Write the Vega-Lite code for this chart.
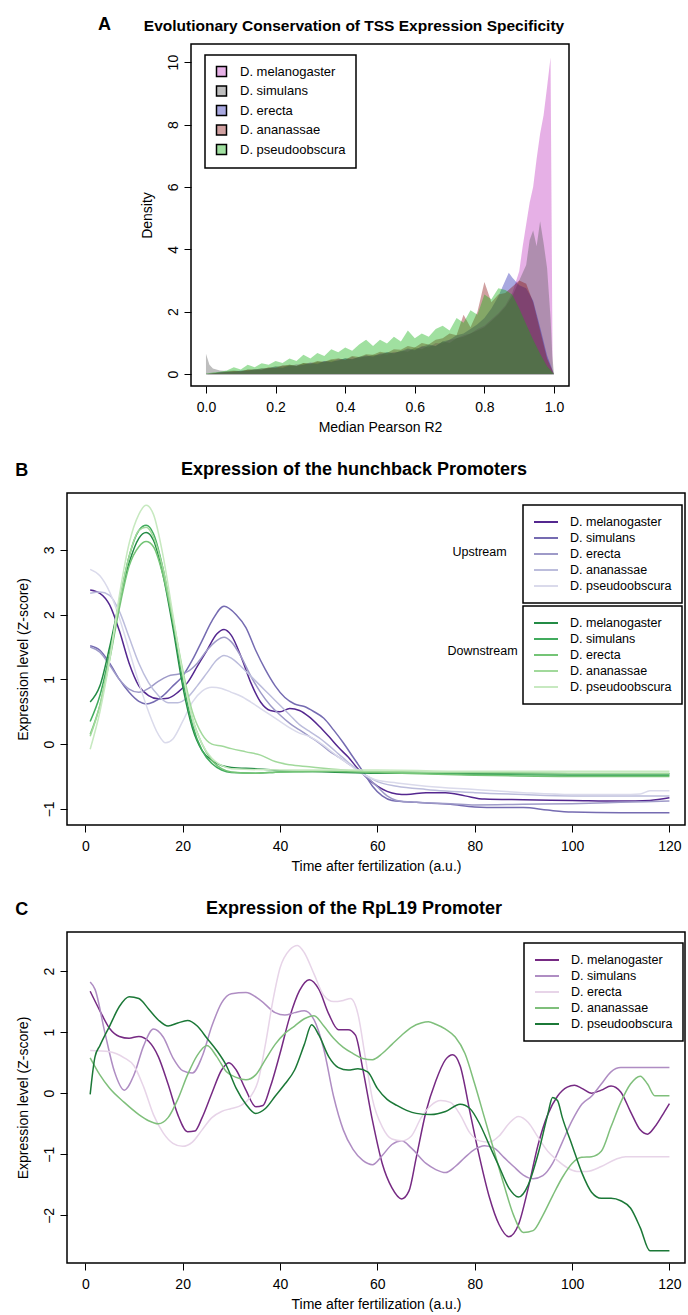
{
"$schema": "https://vega.github.io/schema/vega-lite/v6.json",
"padding": {"left": 15, "top": 16, "right": 0, "bottom": 0},
"background": "white",
"spacing": 25,
"resolve": {"scale": {"color": "independent"}},
"config": {
  "font": "Liberation Sans",
  "view": {"stroke": "black", "strokeWidth": 1.5},
  "axis": {"grid": false, "domain": false, "ticks": true, "tickColor": "black", "tickWidth": 1, "tickSize": 7, "labelColor": "black", "titleColor": "black", "labelFontSize": 14, "titleFontSize": 14, "titleFontWeight": "normal", "labelFlush": false, "labelOverlap": false},
  "axisY": {"labelAngle": -90, "labelAlign": "center", "labelBaseline": "bottom", "labelPadding": 4, "titlePadding": 12},
  "axisX": {"labelPadding": 7, "titlePadding": 6},
  "title": {"font": "Liberation Sans", "fontWeight": "bold", "color": "black", "fontSize": 18},
  "legend": {"labelFont": "Liberation Sans", "labelColor": "black", "strokeColor": "black", "fillColor": "white"}
},
"datasets": {
"tss": [
{"species":"D. melanogaster","x":0,"density":0.01},{"species":"D. melanogaster","x":0.02,"density":0.03},{"species":"D. melanogaster","x":0.04,"density":0.05},{"species":"D. melanogaster","x":0.06,"density":0.06},{"species":"D. melanogaster","x":0.08,"density":0.1},{"species":"D. melanogaster","x":0.1,"density":0.08},{"species":"D. melanogaster","x":0.12,"density":0.14},{"species":"D. melanogaster","x":0.14,"density":0.12},{"species":"D. melanogaster","x":0.16,"density":0.18},{"species":"D. melanogaster","x":0.18,"density":0.2},{"species":"D. melanogaster","x":0.2,"density":0.22},{"species":"D. melanogaster","x":0.22,"density":0.28},{"species":"D. melanogaster","x":0.24,"density":0.25},{"species":"D. melanogaster","x":0.26,"density":0.32},{"species":"D. melanogaster","x":0.28,"density":0.3},{"species":"D. melanogaster","x":0.3,"density":0.38},{"species":"D. melanogaster","x":0.32,"density":0.35},{"species":"D. melanogaster","x":0.34,"density":0.42},{"species":"D. melanogaster","x":0.36,"density":0.4},{"species":"D. melanogaster","x":0.38,"density":0.5},{"species":"D. melanogaster","x":0.4,"density":0.45},{"species":"D. melanogaster","x":0.42,"density":0.55},{"species":"D. melanogaster","x":0.44,"density":0.5},{"species":"D. melanogaster","x":0.46,"density":0.6},{"species":"D. melanogaster","x":0.48,"density":0.58},{"species":"D. melanogaster","x":0.5,"density":0.66},{"species":"D. melanogaster","x":0.52,"density":0.62},{"species":"D. melanogaster","x":0.54,"density":0.72},{"species":"D. melanogaster","x":0.56,"density":0.7},{"species":"D. melanogaster","x":0.58,"density":0.8},{"species":"D. melanogaster","x":0.6,"density":0.76},{"species":"D. melanogaster","x":0.62,"density":0.9},{"species":"D. melanogaster","x":0.64,"density":0.85},{"species":"D. melanogaster","x":0.66,"density":1.0},{"species":"D. melanogaster","x":0.68,"density":0.98},{"species":"D. melanogaster","x":0.7,"density":1.1},{"species":"D. melanogaster","x":0.72,"density":1.15},{"species":"D. melanogaster","x":0.74,"density":1.25},{"species":"D. melanogaster","x":0.76,"density":1.3},{"species":"D. melanogaster","x":0.78,"density":1.45},{"species":"D. melanogaster","x":0.8,"density":1.55},{"species":"D. melanogaster","x":0.82,"density":1.75},{"species":"D. melanogaster","x":0.84,"density":1.95},{"species":"D. melanogaster","x":0.86,"density":2.2},{"species":"D. melanogaster","x":0.88,"density":2.6},{"species":"D. melanogaster","x":0.9,"density":3.3},{"species":"D. melanogaster","x":0.91,"density":4.1},{"species":"D. melanogaster","x":0.92,"density":4.8},{"species":"D. melanogaster","x":0.93,"density":5.5},{"species":"D. melanogaster","x":0.94,"density":6.0},{"species":"D. melanogaster","x":0.95,"density":6.9},{"species":"D. melanogaster","x":0.96,"density":7.7},{"species":"D. melanogaster","x":0.97,"density":8.3},{"species":"D. melanogaster","x":0.98,"density":9.2},{"species":"D. melanogaster","x":0.99,"density":10.15},{"species":"D. melanogaster","x":0.996,"density":0},
{"species":"D. simulans","x":0,"density":0.65},{"species":"D. simulans","x":0.01,"density":0.3},{"species":"D. simulans","x":0.02,"density":0.18},{"species":"D. simulans","x":0.04,"density":0.12},{"species":"D. simulans","x":0.06,"density":0.1},{"species":"D. simulans","x":0.08,"density":0.12},{"species":"D. simulans","x":0.1,"density":0.1},{"species":"D. simulans","x":0.12,"density":0.15},{"species":"D. simulans","x":0.14,"density":0.14},{"species":"D. simulans","x":0.16,"density":0.2},{"species":"D. simulans","x":0.18,"density":0.18},{"species":"D. simulans","x":0.2,"density":0.26},{"species":"D. simulans","x":0.22,"density":0.24},{"species":"D. simulans","x":0.24,"density":0.3},{"species":"D. simulans","x":0.26,"density":0.28},{"species":"D. simulans","x":0.28,"density":0.36},{"species":"D. simulans","x":0.3,"density":0.32},{"species":"D. simulans","x":0.32,"density":0.4},{"species":"D. simulans","x":0.34,"density":0.38},{"species":"D. simulans","x":0.36,"density":0.45},{"species":"D. simulans","x":0.38,"density":0.42},{"species":"D. simulans","x":0.4,"density":0.52},{"species":"D. simulans","x":0.42,"density":0.48},{"species":"D. simulans","x":0.44,"density":0.56},{"species":"D. simulans","x":0.46,"density":0.55},{"species":"D. simulans","x":0.48,"density":0.62},{"species":"D. simulans","x":0.5,"density":0.6},{"species":"D. simulans","x":0.52,"density":0.7},{"species":"D. simulans","x":0.54,"density":0.66},{"species":"D. simulans","x":0.56,"density":0.75},{"species":"D. simulans","x":0.58,"density":0.72},{"species":"D. simulans","x":0.6,"density":0.85},{"species":"D. simulans","x":0.62,"density":0.8},{"species":"D. simulans","x":0.64,"density":0.92},{"species":"D. simulans","x":0.66,"density":0.9},{"species":"D. simulans","x":0.68,"density":1.05},{"species":"D. simulans","x":0.7,"density":1.0},{"species":"D. simulans","x":0.72,"density":1.15},{"species":"D. simulans","x":0.74,"density":1.2},{"species":"D. simulans","x":0.76,"density":1.3},{"species":"D. simulans","x":0.78,"density":1.4},{"species":"D. simulans","x":0.8,"density":1.5},{"species":"D. simulans","x":0.82,"density":1.7},{"species":"D. simulans","x":0.84,"density":1.9},{"species":"D. simulans","x":0.86,"density":2.15},{"species":"D. simulans","x":0.88,"density":2.5},{"species":"D. simulans","x":0.9,"density":3.0},{"species":"D. simulans","x":0.92,"density":3.5},{"species":"D. simulans","x":0.93,"density":4.3},{"species":"D. simulans","x":0.94,"density":4.6},{"species":"D. simulans","x":0.95,"density":4.1},{"species":"D. simulans","x":0.96,"density":4.9},{"species":"D. simulans","x":0.97,"density":4.2},{"species":"D. simulans","x":0.98,"density":3.4},{"species":"D. simulans","x":0.99,"density":1.8},{"species":"D. simulans","x":0.995,"density":0.6},{"species":"D. simulans","x":1.0,"density":0},
{"species":"D. erecta","x":0,"density":0},{"species":"D. erecta","x":0.02,"density":0.02},{"species":"D. erecta","x":0.04,"density":0.06},{"species":"D. erecta","x":0.06,"density":0.08},{"species":"D. erecta","x":0.08,"density":0.07},{"species":"D. erecta","x":0.1,"density":0.12},{"species":"D. erecta","x":0.12,"density":0.1},{"species":"D. erecta","x":0.14,"density":0.16},{"species":"D. erecta","x":0.16,"density":0.14},{"species":"D. erecta","x":0.18,"density":0.2},{"species":"D. erecta","x":0.2,"density":0.22},{"species":"D. erecta","x":0.22,"density":0.2},{"species":"D. erecta","x":0.24,"density":0.28},{"species":"D. erecta","x":0.26,"density":0.26},{"species":"D. erecta","x":0.28,"density":0.3},{"species":"D. erecta","x":0.3,"density":0.36},{"species":"D. erecta","x":0.32,"density":0.32},{"species":"D. erecta","x":0.34,"density":0.42},{"species":"D. erecta","x":0.36,"density":0.38},{"species":"D. erecta","x":0.38,"density":0.45},{"species":"D. erecta","x":0.4,"density":0.5},{"species":"D. erecta","x":0.42,"density":0.48},{"species":"D. erecta","x":0.44,"density":0.55},{"species":"D. erecta","x":0.46,"density":0.6},{"species":"D. erecta","x":0.48,"density":0.56},{"species":"D. erecta","x":0.5,"density":0.65},{"species":"D. erecta","x":0.52,"density":0.7},{"species":"D. erecta","x":0.54,"density":0.68},{"species":"D. erecta","x":0.56,"density":0.74},{"species":"D. erecta","x":0.58,"density":0.82},{"species":"D. erecta","x":0.6,"density":0.78},{"species":"D. erecta","x":0.62,"density":0.88},{"species":"D. erecta","x":0.64,"density":0.95},{"species":"D. erecta","x":0.66,"density":0.9},{"species":"D. erecta","x":0.68,"density":1.05},{"species":"D. erecta","x":0.7,"density":1.1},{"species":"D. erecta","x":0.72,"density":1.25},{"species":"D. erecta","x":0.74,"density":1.3},{"species":"D. erecta","x":0.76,"density":1.45},{"species":"D. erecta","x":0.78,"density":1.6},{"species":"D. erecta","x":0.8,"density":1.8},{"species":"D. erecta","x":0.82,"density":2.1},{"species":"D. erecta","x":0.84,"density":2.5},{"species":"D. erecta","x":0.86,"density":3.0},{"species":"D. erecta","x":0.87,"density":3.25},{"species":"D. erecta","x":0.88,"density":3.1},{"species":"D. erecta","x":0.9,"density":2.85},{"species":"D. erecta","x":0.92,"density":2.75},{"species":"D. erecta","x":0.94,"density":2.35},{"species":"D. erecta","x":0.96,"density":1.5},{"species":"D. erecta","x":0.98,"density":0.6},{"species":"D. erecta","x":1.0,"density":0},
{"species":"D. ananassae","x":0,"density":0},{"species":"D. ananassae","x":0.02,"density":0.03},{"species":"D. ananassae","x":0.04,"density":0.05},{"species":"D. ananassae","x":0.06,"density":0.08},{"species":"D. ananassae","x":0.08,"density":0.1},{"species":"D. ananassae","x":0.1,"density":0.09},{"species":"D. ananassae","x":0.12,"density":0.14},{"species":"D. ananassae","x":0.14,"density":0.16},{"species":"D. ananassae","x":0.16,"density":0.15},{"species":"D. ananassae","x":0.18,"density":0.22},{"species":"D. ananassae","x":0.2,"density":0.2},{"species":"D. ananassae","x":0.22,"density":0.28},{"species":"D. ananassae","x":0.24,"density":0.3},{"species":"D. ananassae","x":0.26,"density":0.26},{"species":"D. ananassae","x":0.28,"density":0.36},{"species":"D. ananassae","x":0.3,"density":0.34},{"species":"D. ananassae","x":0.32,"density":0.42},{"species":"D. ananassae","x":0.34,"density":0.4},{"species":"D. ananassae","x":0.36,"density":0.48},{"species":"D. ananassae","x":0.38,"density":0.5},{"species":"D. ananassae","x":0.4,"density":0.46},{"species":"D. ananassae","x":0.42,"density":0.58},{"species":"D. ananassae","x":0.44,"density":0.55},{"species":"D. ananassae","x":0.46,"density":0.64},{"species":"D. ananassae","x":0.48,"density":0.62},{"species":"D. ananassae","x":0.5,"density":0.72},{"species":"D. ananassae","x":0.52,"density":0.68},{"species":"D. ananassae","x":0.54,"density":0.8},{"species":"D. ananassae","x":0.56,"density":0.78},{"species":"D. ananassae","x":0.58,"density":0.9},{"species":"D. ananassae","x":0.6,"density":0.85},{"species":"D. ananassae","x":0.62,"density":1.0},{"species":"D. ananassae","x":0.64,"density":0.95},{"species":"D. ananassae","x":0.66,"density":1.1},{"species":"D. ananassae","x":0.68,"density":1.15},{"species":"D. ananassae","x":0.7,"density":1.3},{"species":"D. ananassae","x":0.72,"density":1.25},{"species":"D. ananassae","x":0.74,"density":1.9},{"species":"D. ananassae","x":0.76,"density":1.5},{"species":"D. ananassae","x":0.78,"density":2.0},{"species":"D. ananassae","x":0.8,"density":2.95},{"species":"D. ananassae","x":0.82,"density":2.3},{"species":"D. ananassae","x":0.84,"density":2.55},{"species":"D. ananassae","x":0.86,"density":2.6},{"species":"D. ananassae","x":0.88,"density":2.8},{"species":"D. ananassae","x":0.9,"density":3.0},{"species":"D. ananassae","x":0.92,"density":2.9},{"species":"D. ananassae","x":0.94,"density":2.3},{"species":"D. ananassae","x":0.96,"density":1.4},{"species":"D. ananassae","x":0.98,"density":0.5},{"species":"D. ananassae","x":1.0,"density":0},
{"species":"D. pseudoobscura","x":0,"density":0.02},{"species":"D. pseudoobscura","x":0.02,"density":0.05},{"species":"D. pseudoobscura","x":0.04,"density":0.08},{"species":"D. pseudoobscura","x":0.06,"density":0.12},{"species":"D. pseudoobscura","x":0.08,"density":0.22},{"species":"D. pseudoobscura","x":0.1,"density":0.15},{"species":"D. pseudoobscura","x":0.12,"density":0.3},{"species":"D. pseudoobscura","x":0.14,"density":0.22},{"species":"D. pseudoobscura","x":0.16,"density":0.35},{"species":"D. pseudoobscura","x":0.18,"density":0.3},{"species":"D. pseudoobscura","x":0.2,"density":0.42},{"species":"D. pseudoobscura","x":0.22,"density":0.36},{"species":"D. pseudoobscura","x":0.24,"density":0.5},{"species":"D. pseudoobscura","x":0.26,"density":0.42},{"species":"D. pseudoobscura","x":0.28,"density":0.62},{"species":"D. pseudoobscura","x":0.3,"density":0.5},{"species":"D. pseudoobscura","x":0.32,"density":0.68},{"species":"D. pseudoobscura","x":0.34,"density":0.58},{"species":"D. pseudoobscura","x":0.36,"density":0.8},{"species":"D. pseudoobscura","x":0.38,"density":0.7},{"species":"D. pseudoobscura","x":0.4,"density":0.85},{"species":"D. pseudoobscura","x":0.42,"density":0.75},{"species":"D. pseudoobscura","x":0.44,"density":0.95},{"species":"D. pseudoobscura","x":0.46,"density":1.1},{"species":"D. pseudoobscura","x":0.48,"density":0.9},{"species":"D. pseudoobscura","x":0.5,"density":1.1},{"species":"D. pseudoobscura","x":0.52,"density":0.98},{"species":"D. pseudoobscura","x":0.54,"density":1.2},{"species":"D. pseudoobscura","x":0.56,"density":1.05},{"species":"D. pseudoobscura","x":0.58,"density":1.4},{"species":"D. pseudoobscura","x":0.6,"density":1.15},{"species":"D. pseudoobscura","x":0.62,"density":1.3},{"species":"D. pseudoobscura","x":0.64,"density":1.2},{"species":"D. pseudoobscura","x":0.66,"density":1.45},{"species":"D. pseudoobscura","x":0.68,"density":1.55},{"species":"D. pseudoobscura","x":0.7,"density":1.4},{"species":"D. pseudoobscura","x":0.72,"density":1.8},{"species":"D. pseudoobscura","x":0.74,"density":1.65},{"species":"D. pseudoobscura","x":0.76,"density":2.05},{"species":"D. pseudoobscura","x":0.78,"density":1.9},{"species":"D. pseudoobscura","x":0.8,"density":2.55},{"species":"D. pseudoobscura","x":0.82,"density":2.4},{"species":"D. pseudoobscura","x":0.84,"density":2.75},{"species":"D. pseudoobscura","x":0.86,"density":2.7},{"species":"D. pseudoobscura","x":0.88,"density":2.55},{"species":"D. pseudoobscura","x":0.9,"density":2.1},{"species":"D. pseudoobscura","x":0.92,"density":1.6},{"species":"D. pseudoobscura","x":0.94,"density":1.1},{"species":"D. pseudoobscura","x":0.96,"density":0.65},{"species":"D. pseudoobscura","x":0.98,"density":0.25},{"species":"D. pseudoobscura","x":1.0,"density":0}
],
"hb": [
{"promoter":"Upstream","species":"D. melanogaster","time":1,"z":2.38},{"promoter":"Upstream","species":"D. melanogaster","time":3,"z":2.33},{"promoter":"Upstream","species":"D. melanogaster","time":5,"z":2.15},{"promoter":"Upstream","species":"D. melanogaster","time":7,"z":1.75},{"promoter":"Upstream","species":"D. melanogaster","time":9,"z":1.25},{"promoter":"Upstream","species":"D. melanogaster","time":11,"z":0.9},{"promoter":"Upstream","species":"D. melanogaster","time":13,"z":0.75},{"promoter":"Upstream","species":"D. melanogaster","time":15,"z":0.7},{"promoter":"Upstream","species":"D. melanogaster","time":17,"z":0.71},{"promoter":"Upstream","species":"D. melanogaster","time":19,"z":0.8},{"promoter":"Upstream","species":"D. melanogaster","time":21,"z":0.95},{"promoter":"Upstream","species":"D. melanogaster","time":23,"z":1.2},{"promoter":"Upstream","species":"D. melanogaster","time":25,"z":1.45},{"promoter":"Upstream","species":"D. melanogaster","time":27,"z":1.7},{"promoter":"Upstream","species":"D. melanogaster","time":28.5,"z":1.77},{"promoter":"Upstream","species":"D. melanogaster","time":30,"z":1.68},{"promoter":"Upstream","species":"D. melanogaster","time":32,"z":1.35},{"promoter":"Upstream","species":"D. melanogaster","time":34,"z":0.95},{"promoter":"Upstream","species":"D. melanogaster","time":36,"z":0.65},{"promoter":"Upstream","species":"D. melanogaster","time":38,"z":0.52},{"promoter":"Upstream","species":"D. melanogaster","time":40,"z":0.5},{"promoter":"Upstream","species":"D. melanogaster","time":42,"z":0.55},{"promoter":"Upstream","species":"D. melanogaster","time":44,"z":0.52},{"promoter":"Upstream","species":"D. melanogaster","time":46,"z":0.42},{"promoter":"Upstream","species":"D. melanogaster","time":48,"z":0.28},{"promoter":"Upstream","species":"D. melanogaster","time":50,"z":0.12},{"promoter":"Upstream","species":"D. melanogaster","time":52,"z":-0.05},{"promoter":"Upstream","species":"D. melanogaster","time":54,"z":-0.2},{"promoter":"Upstream","species":"D. melanogaster","time":56,"z":-0.38},{"promoter":"Upstream","species":"D. melanogaster","time":58,"z":-0.53},{"promoter":"Upstream","species":"D. melanogaster","time":60,"z":-0.65},{"promoter":"Upstream","species":"D. melanogaster","time":62,"z":-0.73},{"promoter":"Upstream","species":"D. melanogaster","time":64,"z":-0.77},{"promoter":"Upstream","species":"D. melanogaster","time":66,"z":-0.78},{"promoter":"Upstream","species":"D. melanogaster","time":70,"z":-0.75},{"promoter":"Upstream","species":"D. melanogaster","time":74,"z":-0.75},{"promoter":"Upstream","species":"D. melanogaster","time":78,"z":-0.8},{"promoter":"Upstream","species":"D. melanogaster","time":82,"z":-0.85},{"promoter":"Upstream","species":"D. melanogaster","time":90,"z":-0.86},{"promoter":"Upstream","species":"D. melanogaster","time":100,"z":-0.87},{"promoter":"Upstream","species":"D. melanogaster","time":110,"z":-0.88},{"promoter":"Upstream","species":"D. melanogaster","time":116,"z":-0.87},{"promoter":"Upstream","species":"D. melanogaster","time":120,"z":-0.83},
{"promoter":"Upstream","species":"D. simulans","time":1,"z":1.52},{"promoter":"Upstream","species":"D. simulans","time":3,"z":1.45},{"promoter":"Upstream","species":"D. simulans","time":5,"z":1.25},{"promoter":"Upstream","species":"D. simulans","time":7,"z":1.0},{"promoter":"Upstream","species":"D. simulans","time":9,"z":0.8},{"promoter":"Upstream","species":"D. simulans","time":11,"z":0.66},{"promoter":"Upstream","species":"D. simulans","time":12.5,"z":0.62},{"promoter":"Upstream","species":"D. simulans","time":14,"z":0.65},{"promoter":"Upstream","species":"D. simulans","time":16,"z":0.75},{"promoter":"Upstream","species":"D. simulans","time":18,"z":0.9},{"promoter":"Upstream","species":"D. simulans","time":20,"z":1.05},{"promoter":"Upstream","species":"D. simulans","time":22,"z":1.3},{"promoter":"Upstream","species":"D. simulans","time":24,"z":1.6},{"promoter":"Upstream","species":"D. simulans","time":26,"z":1.9},{"promoter":"Upstream","species":"D. simulans","time":28.5,"z":2.13},{"promoter":"Upstream","species":"D. simulans","time":31,"z":2.0},{"promoter":"Upstream","species":"D. simulans","time":33,"z":1.8},{"promoter":"Upstream","species":"D. simulans","time":35,"z":1.45},{"promoter":"Upstream","species":"D. simulans","time":37,"z":1.15},{"promoter":"Upstream","species":"D. simulans","time":39,"z":0.9},{"promoter":"Upstream","species":"D. simulans","time":41,"z":0.72},{"promoter":"Upstream","species":"D. simulans","time":43,"z":0.62},{"promoter":"Upstream","species":"D. simulans","time":45,"z":0.58},{"promoter":"Upstream","species":"D. simulans","time":47,"z":0.5},{"promoter":"Upstream","species":"D. simulans","time":49,"z":0.4},{"promoter":"Upstream","species":"D. simulans","time":51,"z":0.22},{"promoter":"Upstream","species":"D. simulans","time":53,"z":0.02},{"promoter":"Upstream","species":"D. simulans","time":55,"z":-0.2},{"promoter":"Upstream","species":"D. simulans","time":57,"z":-0.42},{"promoter":"Upstream","species":"D. simulans","time":59,"z":-0.65},{"promoter":"Upstream","species":"D. simulans","time":61,"z":-0.8},{"promoter":"Upstream","species":"D. simulans","time":63,"z":-0.87},{"promoter":"Upstream","species":"D. simulans","time":68,"z":-0.9},{"promoter":"Upstream","species":"D. simulans","time":75,"z":-0.93},{"promoter":"Upstream","species":"D. simulans","time":80,"z":-0.97},{"promoter":"Upstream","species":"D. simulans","time":85,"z":-0.98},{"promoter":"Upstream","species":"D. simulans","time":90,"z":-0.98},{"promoter":"Upstream","species":"D. simulans","time":95,"z":-1.02},{"promoter":"Upstream","species":"D. simulans","time":100,"z":-1.05},{"promoter":"Upstream","species":"D. simulans","time":110,"z":-1.06},{"promoter":"Upstream","species":"D. simulans","time":120,"z":-1.06},
{"promoter":"Upstream","species":"D. erecta","time":1,"z":1.5},{"promoter":"Upstream","species":"D. erecta","time":3,"z":1.42},{"promoter":"Upstream","species":"D. erecta","time":5,"z":1.22},{"promoter":"Upstream","species":"D. erecta","time":7,"z":1.0},{"promoter":"Upstream","species":"D. erecta","time":9,"z":0.85},{"promoter":"Upstream","species":"D. erecta","time":11,"z":0.8},{"promoter":"Upstream","species":"D. erecta","time":13,"z":0.86},{"promoter":"Upstream","species":"D. erecta","time":15,"z":0.97},{"promoter":"Upstream","species":"D. erecta","time":17,"z":1.05},{"promoter":"Upstream","species":"D. erecta","time":19,"z":1.08},{"promoter":"Upstream","species":"D. erecta","time":21,"z":1.12},{"promoter":"Upstream","species":"D. erecta","time":23,"z":1.25},{"promoter":"Upstream","species":"D. erecta","time":25,"z":1.45},{"promoter":"Upstream","species":"D. erecta","time":27,"z":1.6},{"promoter":"Upstream","species":"D. erecta","time":28.5,"z":1.65},{"promoter":"Upstream","species":"D. erecta","time":30,"z":1.58},{"promoter":"Upstream","species":"D. erecta","time":32,"z":1.35},{"promoter":"Upstream","species":"D. erecta","time":34,"z":1.05},{"promoter":"Upstream","species":"D. erecta","time":36,"z":0.8},{"promoter":"Upstream","species":"D. erecta","time":38,"z":0.6},{"promoter":"Upstream","species":"D. erecta","time":40,"z":0.45},{"promoter":"Upstream","species":"D. erecta","time":42,"z":0.32},{"promoter":"Upstream","species":"D. erecta","time":44,"z":0.22},{"promoter":"Upstream","species":"D. erecta","time":46,"z":0.12},{"promoter":"Upstream","species":"D. erecta","time":48,"z":0.02},{"promoter":"Upstream","species":"D. erecta","time":50,"z":-0.1},{"promoter":"Upstream","species":"D. erecta","time":52,"z":-0.2},{"promoter":"Upstream","species":"D. erecta","time":54,"z":-0.3},{"promoter":"Upstream","species":"D. erecta","time":56,"z":-0.4},{"promoter":"Upstream","species":"D. erecta","time":58,"z":-0.52},{"promoter":"Upstream","species":"D. erecta","time":60,"z":-0.66},{"promoter":"Upstream","species":"D. erecta","time":62,"z":-0.8},{"promoter":"Upstream","species":"D. erecta","time":64,"z":-0.87},{"promoter":"Upstream","species":"D. erecta","time":68,"z":-0.9},{"promoter":"Upstream","species":"D. erecta","time":75,"z":-0.92},{"promoter":"Upstream","species":"D. erecta","time":80,"z":-0.94},{"promoter":"Upstream","species":"D. erecta","time":90,"z":-0.93},{"promoter":"Upstream","species":"D. erecta","time":100,"z":-0.92},{"promoter":"Upstream","species":"D. erecta","time":110,"z":-0.9},{"promoter":"Upstream","species":"D. erecta","time":120,"z":-0.88},
{"promoter":"Upstream","species":"D. ananassae","time":1,"z":2.33},{"promoter":"Upstream","species":"D. ananassae","time":3,"z":2.35},{"promoter":"Upstream","species":"D. ananassae","time":5,"z":2.3},{"promoter":"Upstream","species":"D. ananassae","time":7,"z":2.05},{"promoter":"Upstream","species":"D. ananassae","time":9,"z":1.65},{"promoter":"Upstream","species":"D. ananassae","time":11,"z":1.25},{"promoter":"Upstream","species":"D. ananassae","time":13,"z":0.95},{"promoter":"Upstream","species":"D. ananassae","time":15,"z":0.75},{"promoter":"Upstream","species":"D. ananassae","time":17,"z":0.64},{"promoter":"Upstream","species":"D. ananassae","time":19,"z":0.64},{"promoter":"Upstream","species":"D. ananassae","time":21,"z":0.72},{"promoter":"Upstream","species":"D. ananassae","time":23,"z":0.9},{"promoter":"Upstream","species":"D. ananassae","time":25,"z":1.1},{"promoter":"Upstream","species":"D. ananassae","time":27,"z":1.3},{"promoter":"Upstream","species":"D. ananassae","time":28.5,"z":1.37},{"promoter":"Upstream","species":"D. ananassae","time":30,"z":1.33},{"promoter":"Upstream","species":"D. ananassae","time":32,"z":1.2},{"promoter":"Upstream","species":"D. ananassae","time":34,"z":1.05},{"promoter":"Upstream","species":"D. ananassae","time":36,"z":0.9},{"promoter":"Upstream","species":"D. ananassae","time":38,"z":0.75},{"promoter":"Upstream","species":"D. ananassae","time":40,"z":0.6},{"promoter":"Upstream","species":"D. ananassae","time":42,"z":0.45},{"promoter":"Upstream","species":"D. ananassae","time":44,"z":0.3},{"promoter":"Upstream","species":"D. ananassae","time":46,"z":0.2},{"promoter":"Upstream","species":"D. ananassae","time":48,"z":0.1},{"promoter":"Upstream","species":"D. ananassae","time":50,"z":-0.02},{"promoter":"Upstream","species":"D. ananassae","time":52,"z":-0.15},{"promoter":"Upstream","species":"D. ananassae","time":54,"z":-0.28},{"promoter":"Upstream","species":"D. ananassae","time":56,"z":-0.4},{"promoter":"Upstream","species":"D. ananassae","time":58,"z":-0.5},{"promoter":"Upstream","species":"D. ananassae","time":60,"z":-0.58},{"promoter":"Upstream","species":"D. ananassae","time":64,"z":-0.65},{"promoter":"Upstream","species":"D. ananassae","time":70,"z":-0.7},{"promoter":"Upstream","species":"D. ananassae","time":80,"z":-0.75},{"promoter":"Upstream","species":"D. ananassae","time":90,"z":-0.78},{"promoter":"Upstream","species":"D. ananassae","time":100,"z":-0.8},{"promoter":"Upstream","species":"D. ananassae","time":110,"z":-0.8},{"promoter":"Upstream","species":"D. ananassae","time":120,"z":-0.8},
{"promoter":"Upstream","species":"D. pseudoobscura","time":1,"z":2.7},{"promoter":"Upstream","species":"D. pseudoobscura","time":3,"z":2.6},{"promoter":"Upstream","species":"D. pseudoobscura","time":5,"z":2.35},{"promoter":"Upstream","species":"D. pseudoobscura","time":7,"z":1.95},{"promoter":"Upstream","species":"D. pseudoobscura","time":9,"z":1.45},{"promoter":"Upstream","species":"D. pseudoobscura","time":11,"z":0.95},{"promoter":"Upstream","species":"D. pseudoobscura","time":13,"z":0.5},{"promoter":"Upstream","species":"D. pseudoobscura","time":15,"z":0.15},{"promoter":"Upstream","species":"D. pseudoobscura","time":16.5,"z":0.02},{"promoter":"Upstream","species":"D. pseudoobscura","time":18,"z":0.08},{"promoter":"Upstream","species":"D. pseudoobscura","time":20,"z":0.35},{"promoter":"Upstream","species":"D. pseudoobscura","time":22,"z":0.65},{"promoter":"Upstream","species":"D. pseudoobscura","time":24,"z":0.82},{"promoter":"Upstream","species":"D. pseudoobscura","time":26,"z":0.88},{"promoter":"Upstream","species":"D. pseudoobscura","time":28,"z":0.86},{"promoter":"Upstream","species":"D. pseudoobscura","time":30,"z":0.8},{"promoter":"Upstream","species":"D. pseudoobscura","time":32,"z":0.74},{"promoter":"Upstream","species":"D. pseudoobscura","time":34,"z":0.65},{"promoter":"Upstream","species":"D. pseudoobscura","time":36,"z":0.55},{"promoter":"Upstream","species":"D. pseudoobscura","time":38,"z":0.45},{"promoter":"Upstream","species":"D. pseudoobscura","time":40,"z":0.35},{"promoter":"Upstream","species":"D. pseudoobscura","time":42,"z":0.25},{"promoter":"Upstream","species":"D. pseudoobscura","time":44,"z":0.17},{"promoter":"Upstream","species":"D. pseudoobscura","time":46,"z":0.12},{"promoter":"Upstream","species":"D. pseudoobscura","time":48,"z":0.03},{"promoter":"Upstream","species":"D. pseudoobscura","time":50,"z":-0.08},{"promoter":"Upstream","species":"D. pseudoobscura","time":52,"z":-0.2},{"promoter":"Upstream","species":"D. pseudoobscura","time":54,"z":-0.3},{"promoter":"Upstream","species":"D. pseudoobscura","time":56,"z":-0.42},{"promoter":"Upstream","species":"D. pseudoobscura","time":58,"z":-0.5},{"promoter":"Upstream","species":"D. pseudoobscura","time":60,"z":-0.56},{"promoter":"Upstream","species":"D. pseudoobscura","time":64,"z":-0.6},{"promoter":"Upstream","species":"D. pseudoobscura","time":70,"z":-0.65},{"promoter":"Upstream","species":"D. pseudoobscura","time":80,"z":-0.7},{"promoter":"Upstream","species":"D. pseudoobscura","time":90,"z":-0.75},{"promoter":"Upstream","species":"D. pseudoobscura","time":100,"z":-0.78},{"promoter":"Upstream","species":"D. pseudoobscura","time":110,"z":-0.78},{"promoter":"Upstream","species":"D. pseudoobscura","time":114,"z":-0.77},{"promoter":"Upstream","species":"D. pseudoobscura","time":116,"z":-0.72},{"promoter":"Upstream","species":"D. pseudoobscura","time":120,"z":-0.72},
{"promoter":"Downstream","species":"D. melanogaster","time":1,"z":0.65},{"promoter":"Downstream","species":"D. melanogaster","time":3,"z":0.9},{"promoter":"Downstream","species":"D. melanogaster","time":5,"z":1.5},{"promoter":"Downstream","species":"D. melanogaster","time":7,"z":2.2},{"promoter":"Downstream","species":"D. melanogaster","time":9,"z":2.8},{"promoter":"Downstream","species":"D. melanogaster","time":11,"z":3.18},{"promoter":"Downstream","species":"D. melanogaster","time":12.5,"z":3.27},{"promoter":"Downstream","species":"D. melanogaster","time":14,"z":3.15},{"promoter":"Downstream","species":"D. melanogaster","time":16,"z":2.6},{"promoter":"Downstream","species":"D. melanogaster","time":18,"z":1.8},{"promoter":"Downstream","species":"D. melanogaster","time":20,"z":0.9},{"promoter":"Downstream","species":"D. melanogaster","time":22,"z":0.25},{"promoter":"Downstream","species":"D. melanogaster","time":24,"z":-0.1},{"promoter":"Downstream","species":"D. melanogaster","time":26,"z":-0.25},{"promoter":"Downstream","species":"D. melanogaster","time":28,"z":-0.33},{"promoter":"Downstream","species":"D. melanogaster","time":30,"z":-0.36},{"promoter":"Downstream","species":"D. melanogaster","time":35,"z":-0.38},{"promoter":"Downstream","species":"D. melanogaster","time":40,"z":-0.41},{"promoter":"Downstream","species":"D. melanogaster","time":50,"z":-0.43},{"promoter":"Downstream","species":"D. melanogaster","time":60,"z":-0.45},{"promoter":"Downstream","species":"D. melanogaster","time":70,"z":-0.45},{"promoter":"Downstream","species":"D. melanogaster","time":80,"z":-0.45},{"promoter":"Downstream","species":"D. melanogaster","time":100,"z":-0.46},{"promoter":"Downstream","species":"D. melanogaster","time":120,"z":-0.46},
{"promoter":"Downstream","species":"D. simulans","time":1,"z":0.35},{"promoter":"Downstream","species":"D. simulans","time":3,"z":0.75},{"promoter":"Downstream","species":"D. simulans","time":5,"z":1.4},{"promoter":"Downstream","species":"D. simulans","time":7,"z":2.2},{"promoter":"Downstream","species":"D. simulans","time":9,"z":2.9},{"promoter":"Downstream","species":"D. simulans","time":11,"z":3.3},{"promoter":"Downstream","species":"D. simulans","time":12.5,"z":3.38},{"promoter":"Downstream","species":"D. simulans","time":14,"z":3.25},{"promoter":"Downstream","species":"D. simulans","time":16,"z":2.7},{"promoter":"Downstream","species":"D. simulans","time":18,"z":1.9},{"promoter":"Downstream","species":"D. simulans","time":20,"z":1.0},{"promoter":"Downstream","species":"D. simulans","time":22,"z":0.3},{"promoter":"Downstream","species":"D. simulans","time":24,"z":-0.1},{"promoter":"Downstream","species":"D. simulans","time":26,"z":-0.3},{"promoter":"Downstream","species":"D. simulans","time":28,"z":-0.4},{"promoter":"Downstream","species":"D. simulans","time":30,"z":-0.44},{"promoter":"Downstream","species":"D. simulans","time":35,"z":-0.45},{"promoter":"Downstream","species":"D. simulans","time":40,"z":-0.43},{"promoter":"Downstream","species":"D. simulans","time":50,"z":-0.42},{"promoter":"Downstream","species":"D. simulans","time":60,"z":-0.43},{"promoter":"Downstream","species":"D. simulans","time":70,"z":-0.45},{"promoter":"Downstream","species":"D. simulans","time":80,"z":-0.47},{"promoter":"Downstream","species":"D. simulans","time":100,"z":-0.48},{"promoter":"Downstream","species":"D. simulans","time":120,"z":-0.48},
{"promoter":"Downstream","species":"D. erecta","time":1,"z":0.15},{"promoter":"Downstream","species":"D. erecta","time":3,"z":0.6},{"promoter":"Downstream","species":"D. erecta","time":5,"z":1.3},{"promoter":"Downstream","species":"D. erecta","time":7,"z":2.1},{"promoter":"Downstream","species":"D. erecta","time":9,"z":2.75},{"promoter":"Downstream","species":"D. erecta","time":11,"z":3.05},{"promoter":"Downstream","species":"D. erecta","time":12.5,"z":3.13},{"promoter":"Downstream","species":"D. erecta","time":14,"z":3.05},{"promoter":"Downstream","species":"D. erecta","time":16,"z":2.6},{"promoter":"Downstream","species":"D. erecta","time":18,"z":1.9},{"promoter":"Downstream","species":"D. erecta","time":20,"z":1.1},{"promoter":"Downstream","species":"D. erecta","time":22,"z":0.4},{"promoter":"Downstream","species":"D. erecta","time":24,"z":0.0},{"promoter":"Downstream","species":"D. erecta","time":26,"z":-0.25},{"promoter":"Downstream","species":"D. erecta","time":28,"z":-0.38},{"promoter":"Downstream","species":"D. erecta","time":30,"z":-0.43},{"promoter":"Downstream","species":"D. erecta","time":35,"z":-0.45},{"promoter":"Downstream","species":"D. erecta","time":40,"z":-0.43},{"promoter":"Downstream","species":"D. erecta","time":50,"z":-0.42},{"promoter":"Downstream","species":"D. erecta","time":60,"z":-0.44},{"promoter":"Downstream","species":"D. erecta","time":80,"z":-0.48},{"promoter":"Downstream","species":"D. erecta","time":100,"z":-0.5},{"promoter":"Downstream","species":"D. erecta","time":120,"z":-0.5},
{"promoter":"Downstream","species":"D. ananassae","time":1,"z":0.12},{"promoter":"Downstream","species":"D. ananassae","time":3,"z":0.6},{"promoter":"Downstream","species":"D. ananassae","time":5,"z":1.35},{"promoter":"Downstream","species":"D. ananassae","time":7,"z":2.2},{"promoter":"Downstream","species":"D. ananassae","time":9,"z":2.9},{"promoter":"Downstream","species":"D. ananassae","time":11,"z":3.3},{"promoter":"Downstream","species":"D. ananassae","time":12.5,"z":3.35},{"promoter":"Downstream","species":"D. ananassae","time":14,"z":3.2},{"promoter":"Downstream","species":"D. ananassae","time":16,"z":2.7},{"promoter":"Downstream","species":"D. ananassae","time":18,"z":1.95},{"promoter":"Downstream","species":"D. ananassae","time":20,"z":1.15},{"promoter":"Downstream","species":"D. ananassae","time":22,"z":0.5},{"promoter":"Downstream","species":"D. ananassae","time":24,"z":0.15},{"promoter":"Downstream","species":"D. ananassae","time":26,"z":0.0},{"promoter":"Downstream","species":"D. ananassae","time":28,"z":-0.03},{"promoter":"Downstream","species":"D. ananassae","time":30,"z":-0.07},{"promoter":"Downstream","species":"D. ananassae","time":33,"z":-0.12},{"promoter":"Downstream","species":"D. ananassae","time":36,"z":-0.17},{"promoter":"Downstream","species":"D. ananassae","time":39,"z":-0.27},{"promoter":"Downstream","species":"D. ananassae","time":42,"z":-0.32},{"promoter":"Downstream","species":"D. ananassae","time":46,"z":-0.35},{"promoter":"Downstream","species":"D. ananassae","time":50,"z":-0.38},{"promoter":"Downstream","species":"D. ananassae","time":55,"z":-0.41},{"promoter":"Downstream","species":"D. ananassae","time":60,"z":-0.42},{"promoter":"Downstream","species":"D. ananassae","time":80,"z":-0.44},{"promoter":"Downstream","species":"D. ananassae","time":100,"z":-0.45},{"promoter":"Downstream","species":"D. ananassae","time":120,"z":-0.45},
{"promoter":"Downstream","species":"D. pseudoobscura","time":1,"z":-0.08},{"promoter":"Downstream","species":"D. pseudoobscura","time":3,"z":0.5},{"promoter":"Downstream","species":"D. pseudoobscura","time":5,"z":1.3},{"promoter":"Downstream","species":"D. pseudoobscura","time":7,"z":2.3},{"promoter":"Downstream","species":"D. pseudoobscura","time":9,"z":3.1},{"promoter":"Downstream","species":"D. pseudoobscura","time":11,"z":3.55},{"promoter":"Downstream","species":"D. pseudoobscura","time":12.5,"z":3.69},{"promoter":"Downstream","species":"D. pseudoobscura","time":14,"z":3.55},{"promoter":"Downstream","species":"D. pseudoobscura","time":16,"z":2.9},{"promoter":"Downstream","species":"D. pseudoobscura","time":18,"z":2.0},{"promoter":"Downstream","species":"D. pseudoobscura","time":20,"z":1.1},{"promoter":"Downstream","species":"D. pseudoobscura","time":22,"z":0.4},{"promoter":"Downstream","species":"D. pseudoobscura","time":24,"z":0.0},{"promoter":"Downstream","species":"D. pseudoobscura","time":26,"z":-0.22},{"promoter":"Downstream","species":"D. pseudoobscura","time":28,"z":-0.33},{"promoter":"Downstream","species":"D. pseudoobscura","time":30,"z":-0.38},{"promoter":"Downstream","species":"D. pseudoobscura","time":40,"z":-0.4},{"promoter":"Downstream","species":"D. pseudoobscura","time":60,"z":-0.4},{"promoter":"Downstream","species":"D. pseudoobscura","time":80,"z":-0.42},{"promoter":"Downstream","species":"D. pseudoobscura","time":100,"z":-0.42},{"promoter":"Downstream","species":"D. pseudoobscura","time":120,"z":-0.42}
],
"rpl": [
{"species":"D. melanogaster","time":1,"z":1.67},{"species":"D. melanogaster","time":3,"z":1.35},{"species":"D. melanogaster","time":5,"z":1.06},{"species":"D. melanogaster","time":7,"z":0.93},{"species":"D. melanogaster","time":9,"z":0.9},{"species":"D. melanogaster","time":11,"z":0.93},{"species":"D. melanogaster","time":13,"z":0.85},{"species":"D. melanogaster","time":15,"z":0.6},{"species":"D. melanogaster","time":17,"z":0.15},{"species":"D. melanogaster","time":19,"z":-0.35},{"species":"D. melanogaster","time":21,"z":-0.63},{"species":"D. melanogaster","time":22.5,"z":-0.62},{"species":"D. melanogaster","time":24,"z":-0.4},{"species":"D. melanogaster","time":26,"z":0.0},{"species":"D. melanogaster","time":28,"z":0.38},{"species":"D. melanogaster","time":29.5,"z":0.5},{"species":"D. melanogaster","time":31,"z":0.38},{"species":"D. melanogaster","time":33,"z":0.05},{"species":"D. melanogaster","time":35,"z":-0.22},{"species":"D. melanogaster","time":36.5,"z":-0.2},{"species":"D. melanogaster","time":38,"z":0.1},{"species":"D. melanogaster","time":40,"z":0.65},{"species":"D. melanogaster","time":42,"z":1.25},{"species":"D. melanogaster","time":44,"z":1.68},{"species":"D. melanogaster","time":46,"z":1.86},{"species":"D. melanogaster","time":48,"z":1.7},{"species":"D. melanogaster","time":50,"z":1.3},{"species":"D. melanogaster","time":52,"z":1.04},{"species":"D. melanogaster","time":54,"z":1.04},{"species":"D. melanogaster","time":55.5,"z":0.95},{"species":"D. melanogaster","time":57,"z":0.4},{"species":"D. melanogaster","time":59,"z":-0.45},{"species":"D. melanogaster","time":61,"z":-1.15},{"species":"D. melanogaster","time":63,"z":-1.55},{"species":"D. melanogaster","time":65,"z":-1.73},{"species":"D. melanogaster","time":66.5,"z":-1.6},{"species":"D. melanogaster","time":68,"z":-1.05},{"species":"D. melanogaster","time":70,"z":-0.3},{"species":"D. melanogaster","time":72,"z":0.2},{"species":"D. melanogaster","time":74,"z":0.55},{"species":"D. melanogaster","time":75.5,"z":0.63},{"species":"D. melanogaster","time":77,"z":0.45},{"species":"D. melanogaster","time":79,"z":-0.3},{"species":"D. melanogaster","time":81,"z":-1.05},{"species":"D. melanogaster","time":83,"z":-1.7},{"species":"D. melanogaster","time":85,"z":-2.15},{"species":"D. melanogaster","time":87,"z":-2.35},{"species":"D. melanogaster","time":89,"z":-2.15},{"species":"D. melanogaster","time":91,"z":-1.55},{"species":"D. melanogaster","time":93,"z":-0.85},{"species":"D. melanogaster","time":95,"z":-0.35},{"species":"D. melanogaster","time":97,"z":-0.05},{"species":"D. melanogaster","time":99,"z":0.1},{"species":"D. melanogaster","time":100.5,"z":0.13},{"species":"D. melanogaster","time":102,"z":0.08},{"species":"D. melanogaster","time":104,"z":0.0},{"species":"D. melanogaster","time":106,"z":0.05},{"species":"D. melanogaster","time":108,"z":0.12},{"species":"D. melanogaster","time":110,"z":0.02},{"species":"D. melanogaster","time":112,"z":-0.3},{"species":"D. melanogaster","time":114,"z":-0.6},{"species":"D. melanogaster","time":115.5,"z":-0.67},{"species":"D. melanogaster","time":117,"z":-0.55},{"species":"D. melanogaster","time":119,"z":-0.3},{"species":"D. melanogaster","time":120,"z":-0.17},
{"species":"D. simulans","time":1,"z":1.82},{"species":"D. simulans","time":2,"z":1.7},{"species":"D. simulans","time":4,"z":1.0},{"species":"D. simulans","time":6,"z":0.35},{"species":"D. simulans","time":8,"z":0.05},{"species":"D. simulans","time":10,"z":0.3},{"species":"D. simulans","time":12,"z":0.78},{"species":"D. simulans","time":14,"z":1.05},{"species":"D. simulans","time":16,"z":0.92},{"species":"D. simulans","time":18,"z":0.58},{"species":"D. simulans","time":20,"z":0.37},{"species":"D. simulans","time":22,"z":0.33},{"species":"D. simulans","time":24,"z":0.6},{"species":"D. simulans","time":26,"z":1.1},{"species":"D. simulans","time":28,"z":1.48},{"species":"D. simulans","time":30,"z":1.63},{"species":"D. simulans","time":33,"z":1.65},{"species":"D. simulans","time":36,"z":1.52},{"species":"D. simulans","time":39,"z":1.32},{"species":"D. simulans","time":41,"z":1.28},{"species":"D. simulans","time":43,"z":1.32},{"species":"D. simulans","time":45,"z":1.35},{"species":"D. simulans","time":47,"z":1.2},{"species":"D. simulans","time":49,"z":0.72},{"species":"D. simulans","time":51,"z":-0.05},{"species":"D. simulans","time":53,"z":-0.6},{"species":"D. simulans","time":55,"z":-0.92},{"species":"D. simulans","time":57,"z":-1.1},{"species":"D. simulans","time":59,"z":-1.17},{"species":"D. simulans","time":61,"z":-1.02},{"species":"D. simulans","time":63,"z":-0.84},{"species":"D. simulans","time":65,"z":-0.78},{"species":"D. simulans","time":67,"z":-0.9},{"species":"D. simulans","time":70,"z":-1.15},{"species":"D. simulans","time":72,"z":-1.25},{"species":"D. simulans","time":74,"z":-1.3},{"species":"D. simulans","time":76,"z":-1.2},{"species":"D. simulans","time":78,"z":-1.05},{"species":"D. simulans","time":80,"z":-0.92},{"species":"D. simulans","time":82,"z":-0.86},{"species":"D. simulans","time":84,"z":-0.9},{"species":"D. simulans","time":86,"z":-1.05},{"species":"D. simulans","time":88,"z":-1.2},{"species":"D. simulans","time":90,"z":-1.34},{"species":"D. simulans","time":92,"z":-1.4},{"species":"D. simulans","time":94,"z":-1.35},{"species":"D. simulans","time":96,"z":-1.15},{"species":"D. simulans","time":98,"z":-0.8},{"species":"D. simulans","time":100,"z":-0.45},{"species":"D. simulans","time":102,"z":-0.18},{"species":"D. simulans","time":104,"z":-0.05},{"species":"D. simulans","time":106,"z":0.15},{"species":"D. simulans","time":108,"z":0.35},{"species":"D. simulans","time":110,"z":0.42},{"species":"D. simulans","time":120,"z":0.42},
{"species":"D. erecta","time":1,"z":0.7},{"species":"D. erecta","time":5,"z":0.68},{"species":"D. erecta","time":8,"z":0.58},{"species":"D. erecta","time":10,"z":0.45},{"species":"D. erecta","time":12,"z":0.1},{"species":"D. erecta","time":14,"z":-0.35},{"species":"D. erecta","time":16,"z":-0.65},{"species":"D. erecta","time":18,"z":-0.82},{"species":"D. erecta","time":20,"z":-0.87},{"species":"D. erecta","time":22,"z":-0.8},{"species":"D. erecta","time":24,"z":-0.6},{"species":"D. erecta","time":26,"z":-0.4},{"species":"D. erecta","time":28,"z":-0.3},{"species":"D. erecta","time":30,"z":-0.25},{"species":"D. erecta","time":32,"z":-0.2},{"species":"D. erecta","time":34,"z":-0.05},{"species":"D. erecta","time":35.5,"z":0.2},{"species":"D. erecta","time":37,"z":0.8},{"species":"D. erecta","time":38.5,"z":1.5},{"species":"D. erecta","time":40,"z":2.05},{"species":"D. erecta","time":42,"z":2.35},{"species":"D. erecta","time":43.6,"z":2.42},{"species":"D. erecta","time":45,"z":2.3},{"species":"D. erecta","time":47,"z":1.95},{"species":"D. erecta","time":49,"z":1.6},{"species":"D. erecta","time":51,"z":1.5},{"species":"D. erecta","time":53,"z":1.52},{"species":"D. erecta","time":54.5,"z":1.55},{"species":"D. erecta","time":56,"z":1.3},{"species":"D. erecta","time":57.5,"z":0.6},{"species":"D. erecta","time":59,"z":-0.1},{"species":"D. erecta","time":61,"z":-0.55},{"species":"D. erecta","time":63,"z":-0.75},{"species":"D. erecta","time":65,"z":-0.78},{"species":"D. erecta","time":67,"z":-0.7},{"species":"D. erecta","time":69,"z":-0.4},{"species":"D. erecta","time":71,"z":-0.2},{"species":"D. erecta","time":73,"z":-0.12},{"species":"D. erecta","time":75,"z":-0.15},{"species":"D. erecta","time":77,"z":-0.35},{"species":"D. erecta","time":79,"z":-0.65},{"species":"D. erecta","time":81,"z":-0.78},{"species":"D. erecta","time":83,"z":-0.8},{"species":"D. erecta","time":85,"z":-0.7},{"species":"D. erecta","time":87,"z":-0.5},{"species":"D. erecta","time":89,"z":-0.38},{"species":"D. erecta","time":91,"z":-0.48},{"species":"D. erecta","time":93,"z":-0.72},{"species":"D. erecta","time":95,"z":-0.95},{"species":"D. erecta","time":97,"z":-1.1},{"species":"D. erecta","time":99,"z":-1.22},{"species":"D. erecta","time":101,"z":-1.28},{"species":"D. erecta","time":103,"z":-1.28},{"species":"D. erecta","time":106,"z":-1.2},{"species":"D. erecta","time":109,"z":-1.08},{"species":"D. erecta","time":111,"z":-1.04},{"species":"D. erecta","time":120,"z":-1.04},
{"species":"D. ananassae","time":1,"z":0.58},{"species":"D. ananassae","time":3,"z":0.3},{"species":"D. ananassae","time":5,"z":0.08},{"species":"D. ananassae","time":8,"z":-0.15},{"species":"D. ananassae","time":11,"z":-0.35},{"species":"D. ananassae","time":13,"z":-0.45},{"species":"D. ananassae","time":15,"z":-0.5},{"species":"D. ananassae","time":17,"z":-0.4},{"species":"D. ananassae","time":19,"z":-0.1},{"species":"D. ananassae","time":21,"z":0.3},{"species":"D. ananassae","time":23,"z":0.62},{"species":"D. ananassae","time":25,"z":0.78},{"species":"D. ananassae","time":27,"z":0.6},{"species":"D. ananassae","time":29,"z":0.35},{"species":"D. ananassae","time":31,"z":0.26},{"species":"D. ananassae","time":33,"z":0.22},{"species":"D. ananassae","time":35,"z":0.3},{"species":"D. ananassae","time":37,"z":0.55},{"species":"D. ananassae","time":39,"z":0.8},{"species":"D. ananassae","time":41,"z":0.98},{"species":"D. ananassae","time":43,"z":1.1},{"species":"D. ananassae","time":45,"z":1.22},{"species":"D. ananassae","time":47,"z":1.27},{"species":"D. ananassae","time":49,"z":1.1},{"species":"D. ananassae","time":51,"z":0.9},{"species":"D. ananassae","time":53,"z":0.75},{"species":"D. ananassae","time":55,"z":0.65},{"species":"D. ananassae","time":57,"z":0.57},{"species":"D. ananassae","time":59,"z":0.55},{"species":"D. ananassae","time":61,"z":0.65},{"species":"D. ananassae","time":63,"z":0.8},{"species":"D. ananassae","time":65,"z":0.95},{"species":"D. ananassae","time":67,"z":1.08},{"species":"D. ananassae","time":69,"z":1.15},{"species":"D. ananassae","time":70.5,"z":1.17},{"species":"D. ananassae","time":72,"z":1.13},{"species":"D. ananassae","time":74,"z":1.05},{"species":"D. ananassae","time":76,"z":0.92},{"species":"D. ananassae","time":78,"z":0.65},{"species":"D. ananassae","time":80,"z":0.15},{"species":"D. ananassae","time":82,"z":-0.4},{"species":"D. ananassae","time":84,"z":-0.95},{"species":"D. ananassae","time":86,"z":-1.5},{"species":"D. ananassae","time":88,"z":-2.0},{"species":"D. ananassae","time":90,"z":-2.28},{"species":"D. ananassae","time":92,"z":-2.25},{"species":"D. ananassae","time":94,"z":-2.0},{"species":"D. ananassae","time":96,"z":-1.68},{"species":"D. ananassae","time":98,"z":-1.38},{"species":"D. ananassae","time":100,"z":-1.15},{"species":"D. ananassae","time":102,"z":-1.05},{"species":"D. ananassae","time":104,"z":-1.04},{"species":"D. ananassae","time":106,"z":-0.95},{"species":"D. ananassae","time":108,"z":-0.55},{"species":"D. ananassae","time":110,"z":-0.15},{"species":"D. ananassae","time":112,"z":0.15},{"species":"D. ananassae","time":114,"z":0.28},{"species":"D. ananassae","time":115.5,"z":0.15},{"species":"D. ananassae","time":117,"z":-0.04},{"species":"D. ananassae","time":120,"z":-0.04},
{"species":"D. pseudoobscura","time":1,"z":-0.02},{"species":"D. pseudoobscura","time":2,"z":0.6},{"species":"D. pseudoobscura","time":3,"z":0.78},{"species":"D. pseudoobscura","time":5,"z":1.1},{"species":"D. pseudoobscura","time":7,"z":1.42},{"species":"D. pseudoobscura","time":9,"z":1.58},{"species":"D. pseudoobscura","time":11,"z":1.55},{"species":"D. pseudoobscura","time":13,"z":1.38},{"species":"D. pseudoobscura","time":15,"z":1.2},{"species":"D. pseudoobscura","time":17,"z":1.1},{"species":"D. pseudoobscura","time":19,"z":1.15},{"species":"D. pseudoobscura","time":21,"z":1.19},{"species":"D. pseudoobscura","time":23,"z":1.1},{"species":"D. pseudoobscura","time":25,"z":0.9},{"species":"D. pseudoobscura","time":27,"z":0.7},{"species":"D. pseudoobscura","time":29,"z":0.45},{"species":"D. pseudoobscura","time":31,"z":0.08},{"species":"D. pseudoobscura","time":33,"z":-0.18},{"species":"D. pseudoobscura","time":35,"z":-0.33},{"species":"D. pseudoobscura","time":37,"z":-0.25},{"species":"D. pseudoobscura","time":39,"z":-0.05},{"species":"D. pseudoobscura","time":41,"z":0.15},{"species":"D. pseudoobscura","time":43,"z":0.38},{"species":"D. pseudoobscura","time":45,"z":0.8},{"species":"D. pseudoobscura","time":46.5,"z":1.12},{"species":"D. pseudoobscura","time":48,"z":0.95},{"species":"D. pseudoobscura","time":50,"z":0.6},{"species":"D. pseudoobscura","time":52,"z":0.42},{"species":"D. pseudoobscura","time":54,"z":0.38},{"species":"D. pseudoobscura","time":56,"z":0.4},{"species":"D. pseudoobscura","time":58,"z":0.35},{"species":"D. pseudoobscura","time":60,"z":0.08},{"species":"D. pseudoobscura","time":62,"z":-0.1},{"species":"D. pseudoobscura","time":64,"z":-0.2},{"species":"D. pseudoobscura","time":66,"z":-0.28},{"species":"D. pseudoobscura","time":68,"z":-0.33},{"species":"D. pseudoobscura","time":71,"z":-0.35},{"species":"D. pseudoobscura","time":74,"z":-0.3},{"species":"D. pseudoobscura","time":77,"z":-0.18},{"species":"D. pseudoobscura","time":79,"z":-0.25},{"species":"D. pseudoobscura","time":81,"z":-0.5},{"species":"D. pseudoobscura","time":83,"z":-0.85},{"species":"D. pseudoobscura","time":85,"z":-1.2},{"species":"D. pseudoobscura","time":87,"z":-1.55},{"species":"D. pseudoobscura","time":89,"z":-1.7},{"species":"D. pseudoobscura","time":91,"z":-1.5},{"species":"D. pseudoobscura","time":93,"z":-1.0},{"species":"D. pseudoobscura","time":95,"z":-0.35},{"species":"D. pseudoobscura","time":96,"z":-0.07},{"species":"D. pseudoobscura","time":97,"z":-0.12},{"species":"D. pseudoobscura","time":98,"z":-0.4},{"species":"D. pseudoobscura","time":100,"z":-0.85},{"species":"D. pseudoobscura","time":102,"z":-1.3},{"species":"D. pseudoobscura","time":104,"z":-1.62},{"species":"D. pseudoobscura","time":106,"z":-1.72},{"species":"D. pseudoobscura","time":108,"z":-1.72},{"species":"D. pseudoobscura","time":110,"z":-1.76},{"species":"D. pseudoobscura","time":112,"z":-1.88},{"species":"D. pseudoobscura","time":114,"z":-2.2},{"species":"D. pseudoobscura","time":116,"z":-2.58},{"species":"D. pseudoobscura","time":120,"z":-2.58}
]
},
"vconcat": [
{
  "hconcat": [
    {
      "width": 44, "height": 10,
      "view": {"stroke": null},
      "title": {"text": "A", "anchor": "end", "frame": "group", "fontSize": 18, "offset": 10},
      "data": {"values": [{"panel": "A"}]},
      "mark": {"type": "point", "opacity": 0},
      "encoding": {}
    },
    {
      "width": 378, "height": 342,
      "title": {"text": "Evolutionary Conservation of TSS Expression Specificity", "fontSize": 15.5, "anchor": "middle", "frame": "group", "dx": -26, "offset": 10},
      "data": {"name": "tss"},
      "mark": {"type": "area", "fillOpacity": 0.4, "interpolate": "linear"},
      "encoding": {
        "x": {"field": "x", "type": "quantitative", "scale": {"domain": [-0.043, 1.043], "nice": false, "zero": false}, "axis": {"values": [0, 0.2, 0.4, 0.6, 0.8, 1.0], "format": ".1f", "title": "Median Pearson R2"}},
        "y": {"field": "density", "type": "quantitative", "stack": null, "scale": {"domain": [-0.38, 10.58], "nice": false, "zero": false}, "axis": {"values": [0, 2, 4, 6, 8, 10], "format": "d", "title": "Density"}},
        "color": {"field": "species", "type": "nominal",
          "scale": {"domain": ["D. melanogaster", "D. simulans", "D. erecta", "D. ananassae", "D. pseudoobscura"], "range": ["#C039C0", "#5C5C5C", "#2525B1", "#891111", "#11B111"]},
          "legend": {"title": null, "orient": "none", "legendX": 14, "legendY": 11, "symbolType": "square", "symbolSize": 100, "symbolStrokeColor": "black", "symbolStrokeWidth": 1.5, "labelFontSize": 13, "rowPadding": 2.5, "padding": 10, "labelOffset": 12, "strokeColor": "black", "fillColor": "white",
            "encode": {"symbols": {"update": {"fillOpacity": {"value": 0.4}, "strokeOpacity": {"value": 1}, "stroke": {"value": "black"}}}, "legend": {"update": {"strokeWidth": {"value": 1.5}}}}}
        }
      }
    }
  ],
  "spacing": 28,
  "resolve": {"scale": {"color": "independent"}, "legend": {"color": "independent"}}
},
{
  "title": {"text": "B", "anchor": "start", "frame": "bounds", "fontSize": 18, "offset": 0, "dy": 20},
  "vconcat": [
    {
      "width": 618, "height": 332,
      "title": {"text": "Expression of the hunchback Promoters", "anchor": "middle", "frame": "group", "dx": -22, "offset": 14},
      "layer": [
        {
          "data": {"name": "hb"},
          "transform": [{"filter": "datum.promoter === 'Upstream'"}],
          "mark": {"type": "line", "strokeWidth": 1.5, "interpolate": "monotone"},
          "encoding": {
            "x": {"field": "time", "type": "quantitative", "scale": {"domain": [-3.76, 123.2], "nice": false, "zero": false}, "axis": {"values": [0, 20, 40, 60, 80, 100, 120], "title": "Time after fertilization (a.u.)"}},
            "y": {"field": "z", "type": "quantitative", "scale": {"domain": [-1.25, 3.88], "nice": false, "zero": false}, "axis": {"values": [-1, 0, 1, 2, 3], "format": "d", "title": "Expression level (Z-score)"}},
            "color": {"field": "species", "type": "nominal",
              "scale": {"domain": ["D. melanogaster", "D. simulans", "D. erecta", "D. ananassae", "D. pseudoobscura"], "range": ["#54278F", "#756BB1", "#9E9AC8", "#BCBDDC", "#DADAEB"]},
              "legend": {"title": null, "orient": "none", "legendX": 456, "legendY": 12, "symbolType": "M-1,0H3", "symbolSize": 144, "symbolStrokeWidth": 2, "labelFontSize": 12.5, "rowPadding": 2, "padding": 10, "labelOffset": 23, "strokeColor": "black", "fillColor": "white", "encode": {"legend": {"update": {"strokeWidth": {"value": 1.5}}}}}}
          }
        },
        {
          "data": {"name": "hb"},
          "transform": [{"filter": "datum.promoter === 'Downstream'"}],
          "mark": {"type": "line", "strokeWidth": 1.5, "interpolate": "monotone"},
          "encoding": {
            "x": {"field": "time", "type": "quantitative"},
            "y": {"field": "z", "type": "quantitative"},
            "color": {"field": "species", "type": "nominal",
              "scale": {"domain": ["D. melanogaster", "D. simulans", "D. erecta", "D. ananassae", "D. pseudoobscura"], "range": ["#238B45", "#41AB5D", "#74C476", "#A1D99B", "#C7E9C0"]},
              "legend": {"title": null, "orient": "none", "legendX": 456, "legendY": 113, "symbolType": "M-1,0H3", "symbolSize": 144, "symbolStrokeWidth": 2, "labelFontSize": 12.5, "rowPadding": 2, "padding": 10, "labelOffset": 23, "strokeColor": "black", "fillColor": "white", "encode": {"legend": {"update": {"strokeWidth": {"value": 1.5}}}}}}
          }
        },
        {
          "data": {"values": [{"label": "Upstream"}]},
          "mark": {"type": "text", "fontSize": 12.5, "align": "center", "baseline": "middle", "color": "black"},
          "encoding": {"x": {"datum": 81, "type": "quantitative"}, "y": {"datum": 2.97, "type": "quantitative"}, "text": {"field": "label"}}
        },
        {
          "data": {"values": [{"label": "Downstream"}]},
          "mark": {"type": "text", "fontSize": 12.5, "align": "center", "baseline": "middle", "color": "black"},
          "encoding": {"x": {"datum": 81.6, "type": "quantitative"}, "y": {"datum": 1.44, "type": "quantitative"}, "text": {"field": "label"}}
        }
      ],
      "resolve": {"scale": {"color": "independent"}}
    }
  ]
},
{
  "title": {"text": "C", "anchor": "start", "frame": "bounds", "fontSize": 18, "offset": 0, "dy": 20},
  "vconcat": [
    {
      "width": 618, "height": 331,
      "title": {"text": "Expression of the RpL19 Promoter", "anchor": "middle", "frame": "group", "dx": -22, "offset": 14},
      "data": {"name": "rpl"},
      "mark": {"type": "line", "strokeWidth": 1.5, "interpolate": "monotone"},
      "encoding": {
        "x": {"field": "time", "type": "quantitative", "scale": {"domain": [-3.76, 123.2], "nice": false, "zero": false}, "axis": {"values": [0, 20, 40, 60, 80, 100, 120], "title": "Time after fertilization (a.u.)"}},
        "y": {"field": "z", "type": "quantitative", "scale": {"domain": [-2.78, 2.64], "nice": false, "zero": false}, "axis": {"values": [-2, -1, 0, 1, 2], "format": "d", "title": "Expression level (Z-score)"}},
        "color": {"field": "species", "type": "nominal",
          "scale": {"domain": ["D. melanogaster", "D. simulans", "D. erecta", "D. ananassae", "D. pseudoobscura"], "range": ["#762A83", "#AF8DC3", "#E7D4E8", "#7FBF7B", "#1B7837"]},
          "legend": {"title": null, "orient": "none", "legendX": 457, "legendY": 11, "symbolType": "M-1,0H3", "symbolSize": 144, "symbolStrokeWidth": 2, "labelFontSize": 12.5, "rowPadding": 2, "padding": 10, "labelOffset": 23, "strokeColor": "black", "fillColor": "white", "encode": {"legend": {"update": {"strokeWidth": {"value": 1.5}}}}}}
      }
    }
  ]
}
]
}
